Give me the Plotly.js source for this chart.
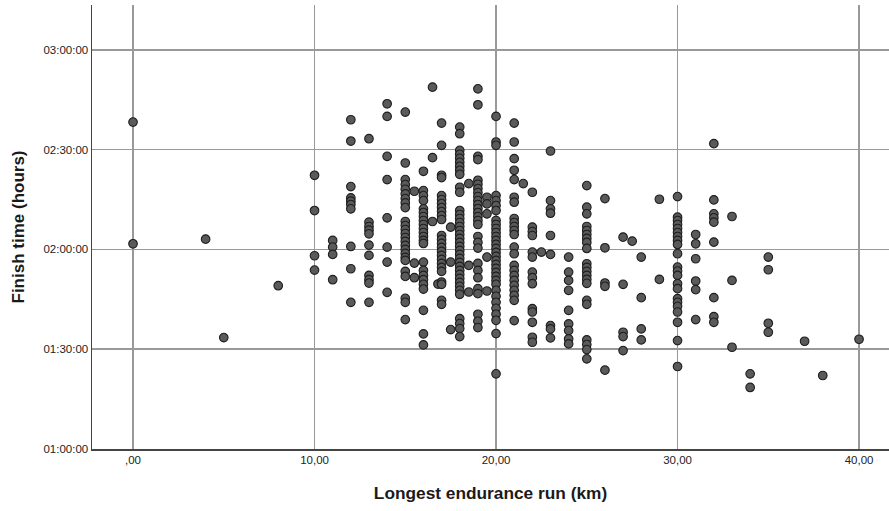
<!DOCTYPE html>
<html>
<head>
<meta charset="utf-8">
<script src="https://cdn.plot.ly/plotly-3.0.1.min.js"></script>
<style>html,body{margin:0;padding:0;background:#fff;}#chart{width:889px;height:511px;}</style>
</head>
<body>
<div id="chart"></div>
<script>
// Finish times in minutes, grouped by longest endurance run (km)
const km0 = [158.3, 121.7];
const km4 = [123.1];
const km5 = [93.5];
const km8 = [109.1];
const km10 = [142.3, 131.7, 118.1, 113.8];
const km11 = [122.7, 120.7, 118.5, 110.9];
const km12 = [159.0, 152.6, 138.9, 135.5, 134.5, 133.5, 132.2, 120.9, 114.2, 104.1];
const km13 = [153.3, 128.2, 126.9, 125.8, 124.7, 121.3, 118.2, 112.2, 110.9, 109.9, 104.1];
const km14 = [163.8, 160.0, 148.0, 141.0, 129.5, 120.7, 116.2, 107.1];
const km15 = [161.3, 146.0, 141.0, 139.5, 138.1, 136.7, 135.3, 134.0, 132.6, 128.4, 127.2, 126.0, 124.8, 123.6, 122.4, 121.2, 120.0, 118.8, 117.6, 116.7, 113.4, 111.9, 105.3, 104.1, 98.9];
const km15_5 = [137.5, 115.9, 111.5];
const km16 = [143.5, 137.7, 136.2, 134.7, 132.2, 131.1, 129.9, 128.7, 127.5, 126.3, 125.1, 123.9, 122.7, 121.8, 116.2, 113.7, 112.2, 110.9, 109.5, 108.1, 101.7, 94.6, 91.3];
const km16_5 = [168.8, 147.6, 128.4];
const km16_8 = [109.6];
const km17 = [158.0, 151.3, 142.3, 141.6, 136.2, 135.0, 133.8, 132.6, 131.4, 130.2, 129.0, 124.2, 123.0, 121.8, 120.6, 119.4, 118.2, 117.0, 115.8, 114.6, 113.4, 110.2, 109.5, 104.7, 103.5];
const km17_5 = [126.7, 116.2, 95.9];
const km18 = [156.8, 154.8, 149.8, 148.6, 147.4, 146.2, 145.0, 143.8, 142.6, 138.7, 137.2, 131.7, 130.5, 129.3, 128.1, 126.9, 125.7, 124.5, 123.3, 122.1, 120.9, 119.7, 118.5, 117.3, 116.1, 114.9, 113.7, 112.5, 111.3, 110.1, 108.9, 107.7, 106.5, 99.2, 97.7, 96.2, 93.8];
const km18_5 = [139.8, 115.2, 107.2];
const km19 = [168.3, 163.5, 148.0, 147.0, 140.8, 139.6, 138.3, 137.1, 135.9, 134.7, 133.5, 132.3, 131.1, 129.9, 128.7, 127.5, 123.9, 122.1, 120.4, 115.8, 113.7, 111.5, 108.2, 106.7, 100.5, 98.4, 96.5];
const km19_5 = [135.7, 133.7, 130.7, 117.7, 107.5];
const km20 = [160.0, 152.3, 151.3, 136.2, 134.7, 133.2, 131.7, 128.7, 127.5, 126.3, 125.1, 123.9, 122.7, 121.5, 120.3, 119.1, 117.9, 116.7, 115.5, 114.3, 113.1, 111.9, 110.7, 109.5, 107.7, 105.9, 104.1, 102.3, 100.5, 98.7, 94.7, 82.6];
const km21 = [158.0, 152.3, 147.3, 143.8, 141.0, 135.7, 134.2, 129.3, 128.1, 126.9, 125.7, 124.5, 120.7, 118.7, 115.2, 113.7, 112.2, 110.7, 109.2, 107.7, 106.2, 104.7, 98.6];
const km21_5 = [139.8];
const km22 = [137.2, 126.7, 125.4, 124.2, 119.2, 117.7, 113.2, 111.5, 109.7, 102.2, 101.2, 98.1, 93.6, 92.1];
const km22_5 = [119.2];
const km23 = [149.6, 134.7, 132.2, 130.9, 124.2, 118.5, 97.1, 96.1, 93.4];
const km24 = [117.7, 113.2, 110.7, 107.7, 101.7, 97.6, 95.6, 93.1, 91.6];
const km25 = [139.2, 132.7, 130.7, 126.9, 125.7, 124.5, 123.3, 122.1, 120.3, 115.7, 114.6, 113.4, 112.2, 111.0, 109.8, 104.7, 103.5, 92.8, 91.4, 89.9, 87.1];
const km26 = [135.3, 120.5, 109.9, 108.9, 83.7];
const km27 = [123.7, 109.5, 95.1, 93.8, 89.6];
const km27_5 = [122.5];
const km28 = [117.7, 105.5, 96.1, 92.8];
const km29 = [135.1, 111.0];
const km30 = [135.9, 129.7, 128.7, 127.5, 126.3, 125.1, 123.9, 122.7, 121.5, 118.7, 114.7, 113.5, 112.2, 109.7, 108.2, 105.2, 104.1, 102.9, 101.2, 98.1, 92.6, 84.8];
const km31 = [124.5, 121.7, 117.2, 110.5, 107.9, 98.9];
const km32 = [151.8, 134.9, 130.7, 129.5, 128.2, 122.2, 105.5, 99.8, 98.1];
const km33 = [129.9, 110.7, 90.6];
const km34 = [82.6, 78.5];
const km35 = [117.7, 113.9, 97.8, 95.1];
const km37 = [92.4];
const km38 = [82.1];
const km40 = [93.0];

const groups = [
  [0, km0], [4, km4], [5, km5], [8, km8], [10, km10], [11, km11], [12, km12], [13, km13],
  [14, km14], [15, km15], [15.5, km15_5], [16, km16], [16.5, km16_5], [16.8, km16_8],
  [17, km17], [17.5, km17_5], [18, km18], [18.5, km18_5], [19, km19], [19.5, km19_5],
  [20, km20], [21, km21], [21.5, km21_5], [22, km22], [22.5, km22_5], [23, km23],
  [24, km24], [25, km25], [26, km26], [27, km27], [27.5, km27_5], [28, km28], [29, km29],
  [30, km30], [31, km31], [32, km32], [33, km33], [34, km34], [35, km35], [37, km37],
  [38, km38], [40, km40]
];

const xTickVals = [0, 10, 20, 30, 40];
const xTickText = [',00', '10,00', '20,00', '30,00', '40,00'];
const yTickVals = [60, 90, 120, 150, 180];
const yTickText = ['01:00:00', '01:30:00', '02:00:00', '02:30:00', '03:00:00'];

const xs = [], ys = [];
groups.forEach(([km, arr]) => arr.forEach(t => { xs.push(km); ys.push(t); }));

const font = 'Liberation Sans, Arial, sans-serif';

Plotly.newPlot('chart', [{
  type: 'scatter', mode: 'markers', x: xs, y: ys,
  marker: {size: 8.6, color: '#5a5a5a', line: {color: '#1e1e1e', width: 1.1}},
  hoverinfo: 'x+y'
}], {
  width: 889, height: 511,
  margin: {l: 92, r: 0, t: 5, b: 62},
  paper_bgcolor: '#fff', plot_bgcolor: '#fff',
  showlegend: false,
  font: {family: font, color: '#222'},
  xaxis: {
    range: [-2.26, 41.65], tickvals: xTickVals, ticktext: xTickText,
    showgrid: true, gridcolor: '#999999', gridwidth: 1.5,
    showline: true, linecolor: '#444', linewidth: 1.5, zeroline: false,
    ticks: '', tickfont: {size: 11.5, family: font, color: '#222'},
    title: {text: 'Longest endurance run (km)', font: {size: 17.3, family: font, color: '#1a1a1a', weight: 'bold'}, standoff: 21}
  },
  yaxis: {
    range: [60, 193.5], tickvals: yTickVals, ticktext: yTickText,
    showgrid: true, gridcolor: '#999999', gridwidth: 1.5,
    showline: true, linecolor: '#444', linewidth: 1.5, zeroline: false,
    ticks: '', tickfont: {size: 11.5, family: font, color: '#222'},
    title: {text: 'Finish time (hours)', font: {size: 17, family: font, color: '#1a1a1a', weight: 'bold'}, standoff: 14}
  }
}, {displayModeBar: false, staticPlot: true});
</script>
</body>
</html>
